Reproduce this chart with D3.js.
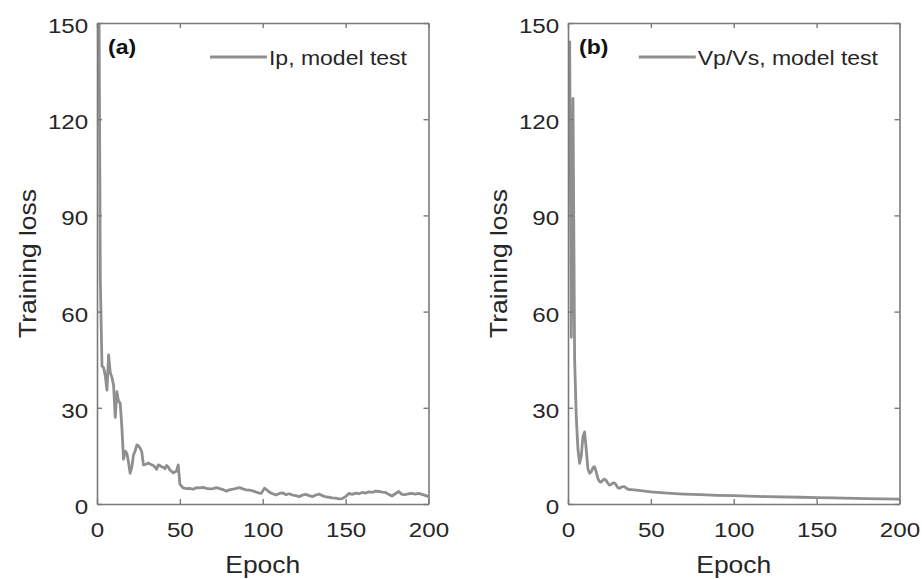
<!DOCTYPE html>
<html><head><meta charset="utf-8">
<script src="https://cdn.jsdelivr.net/npm/d3@7"></script>
<style>body{margin:0;background:#fff}svg{display:block}</style>
</head><body><svg id="c" width="922" height="579"></svg>
<script>
const xTicks = [0, 50, 100, 150, 200];
const yTicks = [0, 30, 60, 90, 120, 150];
const panelTags = ["(a)", "(b)"];
const legendLabels = ["Ip, model test", "Vp/Vs, model test"];
const xTitle = "Epoch";
const yTitle = "Training loss";

const epochsA = [1,2,3,4,5,6,7,8,9,10,11,12,13,14,15,16,17,18,19,20,21,22,23,24,25,26,27,28,29,30,31,32,33,34,35,36,37,38,39,40,41,42,43,44,45,46,47,48,49,50,51,52,54,56,58,60,62,64,66,68,70,72,74,76,78,80,82,84,86,88,90,92,94,96,98,99,101,102,104,106,108,110,112,114,116,118,120,122,124,126,128,130,132,134,136,138,140,142,144,146,148,150,152,154,156,158,160,162,164,166,168,170,172,174,176,178,180,182,184,186,188,190,192,194,196,198,200];
const lossA = [180,70,43,42.5,40,35.5,46.5,41,39.5,37,27,35,32,31.5,24,14,16.5,15.8,13,9.6,11.5,15.3,16.5,18.4,18.2,17.4,16.3,12.2,12.3,12.5,12.8,12.5,12.2,12,11.5,10.8,12.2,12,11.6,11.5,11,12,11.5,10.6,10.2,9.7,10,10.3,12.2,6.2,5.6,5.0,4.8,4.9,4.6,5.1,5.0,5.2,4.9,4.7,4.8,5.1,4.8,4.5,4.0,4.4,4.6,4.9,5.1,4.7,4.4,4.3,4.1,3.7,3.4,3.3,4.9,4.6,3.7,3.2,2.8,3.3,3.5,2.9,3.2,2.8,2.6,2.3,2.8,3.0,2.6,2.3,2.8,3.1,2.6,2.2,2.1,1.9,1.8,1.6,1.7,2.3,3.3,3.0,3.4,3.2,3.6,3.4,3.8,3.6,4.0,3.9,3.7,3.6,3.0,2.5,3.2,3.9,3.0,2.9,3.2,3.3,3.1,3.3,3.0,2.7,2.3];

const epochsB = [1,2,3,4,5,6,7,8,9,10,11,12,13,14,15,16,17,18,19,20,21,22,23,24,25,26,27,28,29,30,31,32,33,34,35,36,37,38,40,45,50,60,70,80,90,100,120,140,150,160,180,200];
const lossB = [144.5,52,126.5,45,27,17,12.7,15,21,22.5,17,11,9.6,10,11.3,11.6,10,8,7,6.8,7.4,7.8,7.4,6.5,5.9,6.1,6.5,6.6,6,5.1,4.9,5.2,5.4,5.4,5.0,4.7,4.5,4.5,4.4,4.1,3.8,3.4,3.1,2.9,2.7,2.6,2.3,2.1,2.0,1.9,1.7,1.5];

const svg = d3.select("#c");
const FONT = "Liberation Sans, Arial, Helvetica, sans-serif";
const SX = 1.15;
const axisColor = "#7a7a7a";
const lineColor = "#8f8f8f";
const textColor = "#262626";

function addText(parent, x, y, str, o) {
  const t = parent.append("g")
    .attr("transform", `translate(${x},${y}) rotate(${o.rot || 0}) scale(${SX},1)`)
    .append("text")
    .attr("text-anchor", o.anchor || "start")
    .attr("font-family", FONT).attr("font-size", o.size)
    .attr("font-weight", o.weight || "normal")
    .attr("fill", o.fill || textColor).text(str);
  return t;
}

const panels = [
  {x0: 97, x1: 428.5, ex: epochsA, ey: lossA, tag: panelTags[0], leg: legendLabels[0], ylabX: 36, legRight: 407},
  {x0: 568, x1: 899.5, ex: epochsB, ey: lossB, tag: panelTags[1], leg: legendLabels[1], ylabX: 507, legRight: 878}
];
const yTop = 23, yBot = 504;

panels.forEach((p, i) => {
  const x = d3.scaleLinear().domain([0, 200]).range([p.x0, p.x1]);
  const y = d3.scaleLinear().domain([0, 150]).range([yBot, yTop]);
  const g = svg.append("g");

  const clipId = "clip" + i;
  svg.append("clipPath").attr("id", clipId).append("rect")
    .attr("x", p.x0).attr("y", yTop).attr("width", p.x1 - p.x0).attr("height", yBot - yTop);

  const data = p.ex.map((e, k) => [e, p.ey[k]]);
  g.append("path").datum(data)
    .attr("clip-path", `url(#${clipId})`)
    .attr("fill", "none").attr("stroke", lineColor).attr("stroke-width", 2.8)
    .attr("stroke-linejoin", "round")
    .attr("d", d3.line().x(d => x(d[0])).y(d => y(d[1])));

  const styleAxis = sel => {
    sel.select(".domain").attr("stroke", axisColor).attr("stroke-width", 1.6);
    sel.selectAll(".tick line").attr("stroke", axisColor).attr("stroke-width", 1.4);
    sel.selectAll("text").attr("fill", textColor).attr("font-family", FONT).attr("font-size", 21)
      .attr("transform", `scale(${SX},1)`);
  };
  g.append("g").attr("transform", `translate(0,${yBot})`)
    .call(d3.axisBottom(x).tickValues(xTicks).tickSizeInner(-5).tickSizeOuter(0).tickPadding(18))
    .call(styleAxis);
  g.append("g").attr("transform", `translate(0,${yTop})`)
    .call(d3.axisTop(x).tickValues(xTicks).tickSizeInner(-5).tickSizeOuter(0).tickFormat(""))
    .call(styleAxis);
  g.append("g").attr("transform", `translate(${p.x0},0)`)
    .call(d3.axisLeft(y).tickValues(yTicks).tickSizeInner(-5).tickSizeOuter(0).tickPadding(7.7))
    .call(styleAxis)
    .call(s => s.selectAll("text").attr("dy", "0.45em"));
  g.append("g").attr("transform", `translate(${p.x1},0)`)
    .call(d3.axisRight(y).tickValues(yTicks).tickSizeInner(-5).tickSizeOuter(0).tickFormat(""))
    .call(styleAxis);

  addText(g, (p.x0 + p.x1) / 2, 573, xTitle, {size: 23, anchor: "middle"});
  addText(g, p.ylabX, (yTop + yBot) / 2, yTitle, {size: 23, anchor: "middle", rot: -90});

  addText(g, p.x0 + 11, 54, p.tag, {size: 20, weight: "bold", fill: "#111"});

  const lt = addText(g, p.legRight, 65, p.leg, {size: 20, anchor: "end"});
  const tw = lt.node().getComputedTextLength() * SX;
  const tx = p.legRight - tw - 2;
  g.append("line").attr("x1", tx - 57).attr("x2", tx).attr("y1", 57).attr("y2", 57)
    .attr("stroke", lineColor).attr("stroke-width", 2.8);
});
</script></body></html>
